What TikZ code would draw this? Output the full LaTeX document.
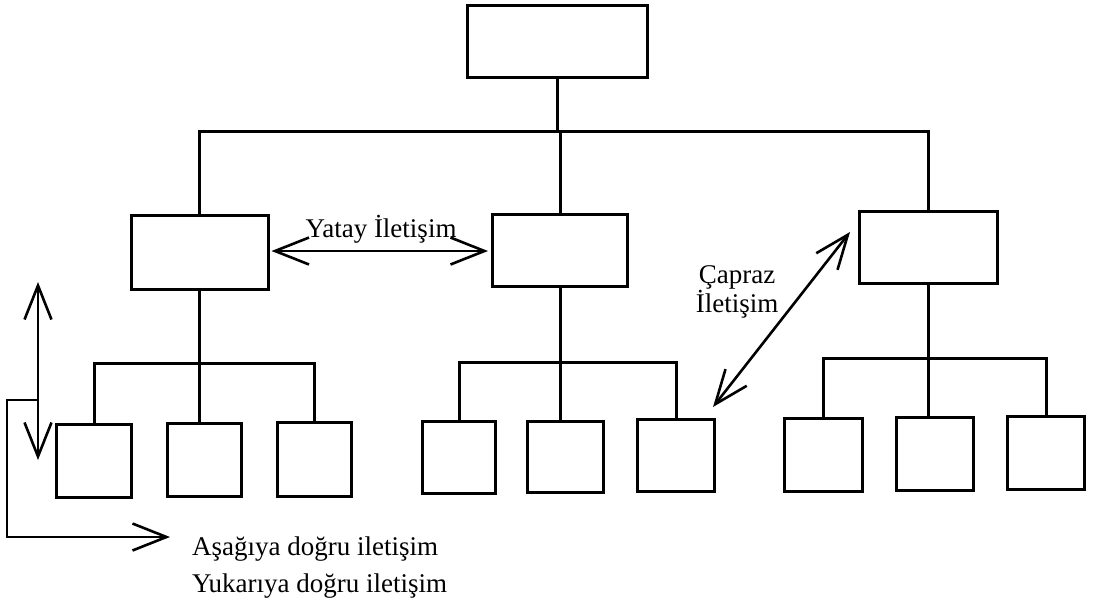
\documentclass[tikz,border=0pt]{standalone}
\usepackage{fontspec}
\setmainfont{Liberation Serif}
\usetikzlibrary{arrows.meta}
\tikzset{
  box/.style={draw,line width=3pt,inner sep=0pt},
  wire/.style={line width=3pt},
  barb/.tip={Straight Barb[length=34pt,width=27pt]},
  comm/.style={line width=2.6pt,barb-barb},
  oneway/.style={line width=2.6pt,-barb},
  lbl/.style={font=\fontsize{27}{29}\selectfont,inner sep=0pt}
}
\begin{document}
\begin{tikzpicture}[x=1pt,y=-1pt]
\useasboundingbox (0,0) rectangle (1094,614);
% boxes
\node[box,minimum width=180pt,minimum height=72pt] (top) at (557.5,41.5) {};
\node[box,minimum width=137pt,minimum height=74pt] (Lmid) at (199.5,252.5) {};
\node[box,minimum width=135pt,minimum height=72pt] (Mmid) at (560,250.5) {};
\node[box,minimum width=138pt,minimum height=72pt] (Rmid) at (928.5,247.5) {};
\node[box,minimum width=75pt,minimum height=73pt] (b1) at (94,461) {};
\node[box,minimum width=74pt,minimum height=73pt] (b2) at (204.5,460) {};
\node[box,minimum width=74pt,minimum height=74pt] (b3) at (314.5,459.5) {};
\node[box,minimum width=73pt,minimum height=72pt] (b4) at (459,457.5) {};
\node[box,minimum width=76pt,minimum height=71pt] (b5) at (565.5,457) {};
\node[box,minimum width=77pt,minimum height=72pt] (b6) at (676,455.5) {};
\node[box,minimum width=78pt,minimum height=73pt] (b7) at (823.5,455) {};
\node[box,minimum width=77pt,minimum height=73pt] (b8) at (935,454) {};
\node[box,minimum width=77pt,minimum height=73pt] (b9) at (1046,453) {};
% bus coordinates
\coordinate (hb) at (557,131);
\coordinate (g1) at (0,363);
\coordinate (g2) at (0,362);
\coordinate (g3) at (0,358);
% top level wiring
\draw[wire] (Lmid.north) |- (hb) -| (Rmid.north);
\draw[wire] (top.south) -- (top.south |- hb);
\draw[wire] (Mmid.north |- hb) -- (Mmid.north);
% group 1
\draw[wire] (b1.north) |- (Lmid.south |- g1) -| (b3.north);
\draw[wire] (Lmid.south) -- (Lmid.south |- b2.north);
% group 2
\draw[wire] (b4.north) |- (Mmid.south |- g2) -| (b6.north);
\draw[wire] (Mmid.south) -- (Mmid.south |- b5.north);
% group 3
\draw[wire] (b7.north) |- (Rmid.south |- g3) -| (b9.north);
\draw[wire] (Rmid.south) -- (Rmid.south |- b8.north);
% horizontal communication
\coordinate (yt) at (380,251);
\draw[comm] ([xshift=2pt]Lmid.east |- yt) -- ([xshift=-3pt]Mmid.west |- yt);
\node[lbl,anchor=base] (yatay) at (381,237) {Yatay İletişim};
% cross communication
\draw[comm] ([shift={(-3,-11)}]b6.north east) -- ([shift={(-8,-15.5)}]Rmid.west);
\node[lbl,align=center,anchor=base] (capraz) at (737,312) {Çapraz\\İletişim};
% vertical communication
\coordinate (vu) at (38,282);
\coordinate (vd) at (38,460);
\draw[comm] (vd) -- (vu);
\coordinate (lstart) at (38,400);
\coordinate (lc1) at (7,400);
\coordinate (lc2) at (7,537);
\coordinate (lend) at (170,537);
\draw[oneway] (lstart) -- (lc1) -- (lc2) -- (lend);
\node[lbl,anchor=base west] (down) at (192,555) {Aşağıya doğru iletişim};
\node[lbl,anchor=base west] (up) at (192,592) {Yukarıya doğru iletişim};
\end{tikzpicture}
\end{document}
